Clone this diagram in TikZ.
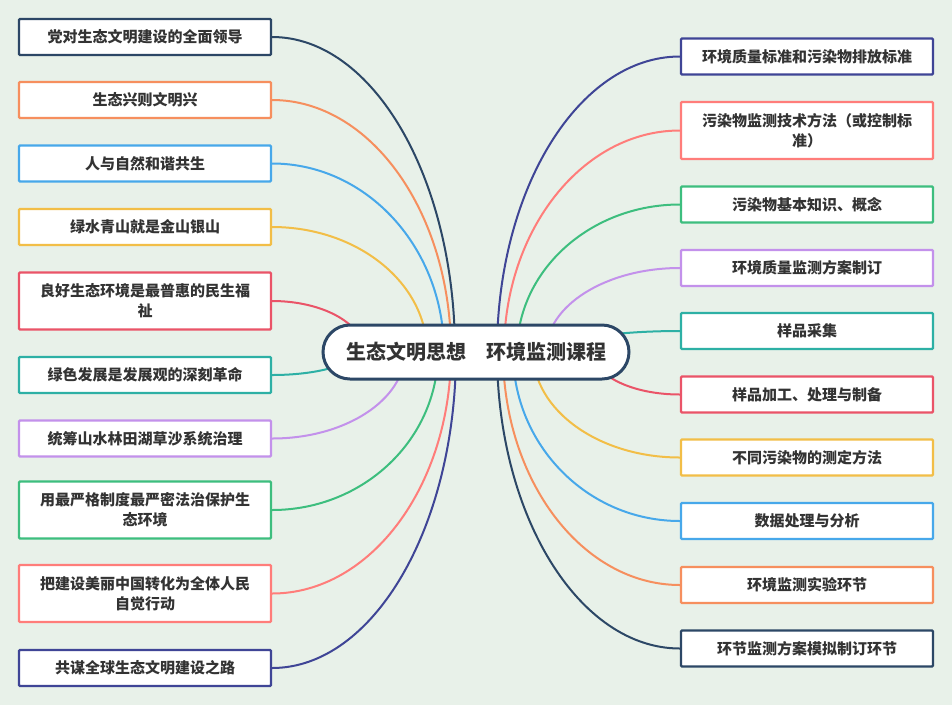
\documentclass[tikz,border=0pt]{standalone}
\usepackage{fontspec}
\setmainfont{Noto Sans CJK SC}
\usetikzlibrary{calc}
\definecolor{bg}{HTML}{E8F1E9}
\definecolor{txt}{HTML}{333333}
\definecolor{cnavy}{HTML}{2C4766}
\definecolor{corange}{HTML}{F68F5E}
\definecolor{cblue}{HTML}{47A8EA}
\definecolor{cyellow}{HTML}{F2BE47}
\definecolor{cred}{HTML}{EA5468}
\definecolor{cteal}{HTML}{2DB0A5}
\definecolor{clilac}{HTML}{C391EB}
\definecolor{cgreen}{HTML}{3DBE7E}
\definecolor{csalmon}{HTML}{FF7D7A}
\definecolor{cindigo}{HTML}{3F4596}
\newcommand\brline[3]{\draw[brl,#3] (#1) .. controls ($(#1)!0.552!(#1 -| #2)$) and ($(#2)!0.552!(#1 -| #2)$) .. (#2);}
\begin{document}
\begin{tikzpicture}[x=1pt,y=-1pt,
  box/.style={draw, fill=white, line width=2.2pt, rounded corners=1pt,
    minimum width=252pt, minimum height=36pt, inner sep=0pt, align=center,
    font=\fontsize{15}{20}\selectfont\bfseries, text=txt},
  tall/.style={minimum height=57pt},
  brl/.style={line width=2pt},
  rootbox/.style={draw=cnavy, fill=white, line width=3pt, rounded corners=27pt,
    minimum width=306pt, minimum height=54pt, inner sep=0pt,
    font=\fontsize{20}{24}\selectfont\bfseries, text=txt}]
\fill[bg] (0,0) rectangle (952,705);
\useasboundingbox (0,0) rectangle (952,705);

% end points of branch curves (hidden under the root)
\coordinate (eL1) at (455,352);
\coordinate (eL2) at (451,352);
\coordinate (eL3) at (444,352);
\coordinate (eL4) at (427,352);
\coordinate (eL5) at (364,352);
\coordinate (eL6) at (354,352);
\coordinate (eL7) at (405,352);
\coordinate (eL8) at (438,352);
\coordinate (eL9) at (451,352);
\coordinate (eL10) at (456,352);
\coordinate (eR1) at (497,352);
\coordinate (eR2) at (504,352);
\coordinate (eR3) at (517,352);
\coordinate (eR4) at (546,352);
\coordinate (eR5) at (554,352);
\coordinate (eR6) at (593,352);
\coordinate (eR7) at (533,352);
\coordinate (eR8) at (513,352);
\coordinate (eR9) at (503,352);
\coordinate (eR10) at (497,352);

% left boxes
\node[box, draw=cnavy] (L1) at (145,37) {党对生态文明建设的全面领导};
\node[box, draw=corange] (L2) at (145,100) {生态兴则文明兴};
\node[box, draw=cblue] (L3) at (145,163.5) {人与自然和谐共生};
\node[box, draw=cyellow] (L4) at (145,227) {绿水青山就是金山银山};
\node[box, tall, draw=cred] (L5) at (145,301) {良好生态环境是最普惠的民生福\\祉};
\node[box, draw=cteal] (L6) at (145,375) {绿色发展是发展观的深刻革命};
\node[box, draw=clilac] (L7) at (145,438.5) {统筹山水林田湖草沙系统治理};
\node[box, tall, draw=cgreen] (L8) at (145,510) {用最严格制度最严密法治保护生\\态环境};
\node[box, tall, draw=csalmon] (L9) at (145,593.5) {把建设美丽中国转化为全体人民\\自觉行动};
\node[box, draw=cindigo] (L10) at (145,668) {共谋全球生态文明建设之路};

% right boxes
\node[box, draw=cindigo] (R1) at (807,56.5) {环境质量标准和污染物排放标准};
\node[box, tall, draw=csalmon] (R2) at (807,130.5) {污染物监测技术方法（或控制标\\准）};
\node[box, draw=cgreen] (R3) at (807,204.5) {污染物基本知识、概念};
\node[box, draw=clilac] (R4) at (807,268) {环境质量监测方案制订};
\node[box, draw=cteal] (R5) at (807,331) {样品采集};
\node[box, draw=cred] (R6) at (807,394.5) {样品加工、处理与制备};
\node[box, draw=cyellow] (R7) at (807,457.5) {不同污染物的测定方法};
\node[box, draw=cblue] (R8) at (807,521) {数据处理与分析};
\node[box, draw=corange] (R9) at (807,585) {环境监测实验环节};
\node[box, draw=cnavy] (R10) at (807,648.5) {环节监测方案模拟制订环节};

% branch curves
\brline{L1.east}{eL1}{cnavy}
\brline{L2.east}{eL2}{corange}
\brline{L3.east}{eL3}{cblue}
\brline{L4.east}{eL4}{cyellow}
\brline{L5.east}{eL5}{cred}
\brline{L6.east}{eL6}{cteal}
\brline{L7.east}{eL7}{clilac}
\brline{L8.east}{eL8}{cgreen}
\brline{L9.east}{eL9}{csalmon}
\brline{L10.east}{eL10}{cindigo}
\brline{R1.west}{eR1}{cindigo}
\brline{R2.west}{eR2}{csalmon}
\brline{R3.west}{eR3}{cgreen}
\brline{R4.west}{eR4}{clilac}
\brline{R5.west}{eR5}{cteal}
\brline{R6.west}{eR6}{cred}
\brline{R7.west}{eR7}{cyellow}
\brline{R8.west}{eR8}{cblue}
\brline{R9.west}{eR9}{corange}
\brline{R10.west}{eR10}{cnavy}

% root
\node[rootbox] (root) at (476,352) {生态文明思想　环境监测课程};
\end{tikzpicture}
\end{document}
